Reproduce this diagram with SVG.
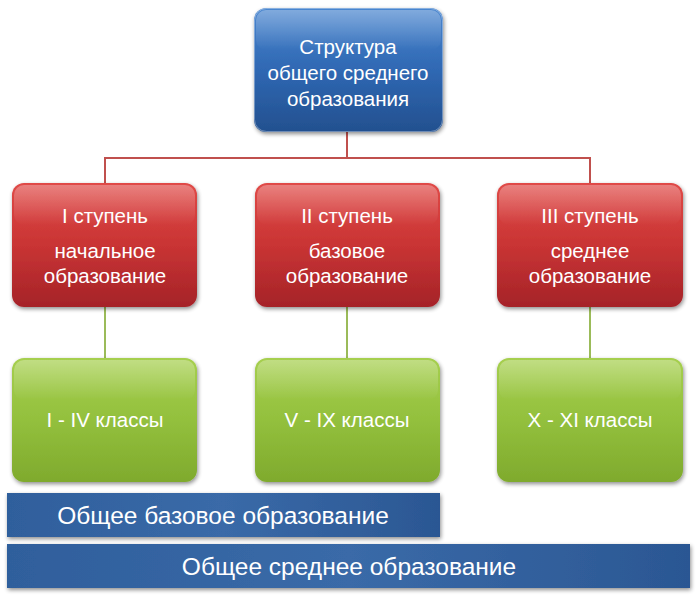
<svg xmlns="http://www.w3.org/2000/svg" width="699" height="602" viewBox="0 0 699 602">
<defs>
<linearGradient id="gBlue" x1="0" y1="0" x2="0" y2="1">
<stop offset="0" stop-color="#4a86cf"/><stop offset="0.5" stop-color="#2f68b3"/><stop offset="1" stop-color="#23508f"/>
</linearGradient>
<linearGradient id="gRed" x1="0" y1="0" x2="0" y2="1">
<stop offset="0" stop-color="#e04a47"/><stop offset="0.5" stop-color="#c93434"/><stop offset="1" stop-color="#a52328"/>
</linearGradient>
<linearGradient id="gGreen" x1="0" y1="0" x2="0" y2="1">
<stop offset="0" stop-color="#a6cf4f"/><stop offset="0.5" stop-color="#93c03d"/><stop offset="1" stop-color="#7faa2d"/>
</linearGradient>
<linearGradient id="gBar" x1="0" y1="0" x2="1" y2="0">
<stop offset="0" stop-color="#2f5f9c"/><stop offset="0.5" stop-color="#3a6aa8"/><stop offset="1" stop-color="#2b5793"/>
</linearGradient>
<linearGradient id="gShine" x1="0" y1="0" x2="0" y2="1">
<stop offset="0" stop-color="#fff" stop-opacity="0.3"/><stop offset="1" stop-color="#fff" stop-opacity="0"/>
</linearGradient>
<filter id="sh" x="-10%" y="-10%" width="125%" height="130%">
<feGaussianBlur in="SourceAlpha" stdDeviation="2"/><feOffset dx="1" dy="2"/>
<feComponentTransfer><feFuncA type="linear" slope="0.45"/></feComponentTransfer>
<feMerge><feMergeNode/><feMergeNode in="SourceGraphic"/></feMerge>
</filter>
</defs>
<style>
text{font-family:"Liberation Sans",Arial,sans-serif;fill:#fff;text-anchor:middle}
.t{font-size:20.5px}
.b{font-size:24.5px}
.box{filter:url(#sh)}
.shine{fill:url(#gShine)}
.edge{fill:none;stroke:#fff;stroke-opacity:0.35;stroke-width:1}
</style>
<g id="connectors">
<path d="M347 132 V158 M105 183 V158 H590 V183" fill="none" stroke="#c0504d" stroke-width="2"/>
<path d="M105 307 V358 M347 307 V358 M590 307 V358" fill="none" stroke="#9bbb59" stroke-width="2"/>
</g>
<g id="root">
<rect class="box" x="254" y="8" width="189" height="124" rx="12" fill="url(#gBlue)"/>
<rect class="shine" x="256" y="10" width="185" height="40" rx="10"/>
<rect class="edge" x="254.5" y="8.5" width="188" height="123" rx="12"/>
<text class="t" x="348" y="54">Структура</text>
<text class="t" x="348" y="80">общего среднего</text>
<text class="t" x="348" y="106">образования</text>
</g>
<g id="stage1">
<rect class="box" x="12" y="183" width="185" height="124" rx="12" fill="url(#gRed)"/>
<rect class="shine" x="14" y="185" width="181" height="40" rx="10"/>
<text class="t" x="105" y="223">I ступень</text>
<text class="t" x="105" y="258">начальное</text>
<text class="t" x="105" y="283">образование</text>
</g>
<g id="stage2">
<rect class="box" x="255" y="183" width="185" height="124" rx="12" fill="url(#gRed)"/>
<rect class="shine" x="257" y="185" width="181" height="40" rx="10"/>
<text class="t" x="347" y="223">II ступень</text>
<text class="t" x="347" y="258">базовое</text>
<text class="t" x="347" y="283">образование</text>
</g>
<g id="stage3">
<rect class="box" x="497" y="183" width="186" height="124" rx="12" fill="url(#gRed)"/>
<rect class="shine" x="499" y="185" width="182" height="40" rx="10"/>
<text class="t" x="590" y="223">III ступень</text>
<text class="t" x="590" y="258">среднее</text>
<text class="t" x="590" y="283">образование</text>
</g>
<g id="classes1">
<rect class="box" x="12" y="358" width="185" height="124" rx="12" fill="url(#gGreen)"/>
<rect class="shine" x="14" y="360" width="181" height="40" rx="10"/>
<text class="t" x="105" y="427">I - IV классы</text>
</g>
<g id="classes2">
<rect class="box" x="255" y="358" width="185" height="124" rx="12" fill="url(#gGreen)"/>
<rect class="shine" x="257" y="360" width="181" height="40" rx="10"/>
<text class="t" x="347" y="427">V - IX классы</text>
</g>
<g id="classes3">
<rect class="box" x="497" y="358" width="186" height="124" rx="12" fill="url(#gGreen)"/>
<rect class="shine" x="499" y="360" width="182" height="40" rx="10"/>
<text class="t" x="590" y="427">X - XI классы</text>
</g>
<g id="basic">
<rect class="box" x="7" y="493" width="433" height="44" fill="url(#gBar)"/>
<text class="b" x="223" y="524">Общее базовое образование</text>
</g>
<g id="secondary">
<rect class="box" x="7" y="544" width="683" height="44" fill="url(#gBar)"/>
<text class="b" x="349" y="575">Общее среднее образование</text>
</g>
</svg>
